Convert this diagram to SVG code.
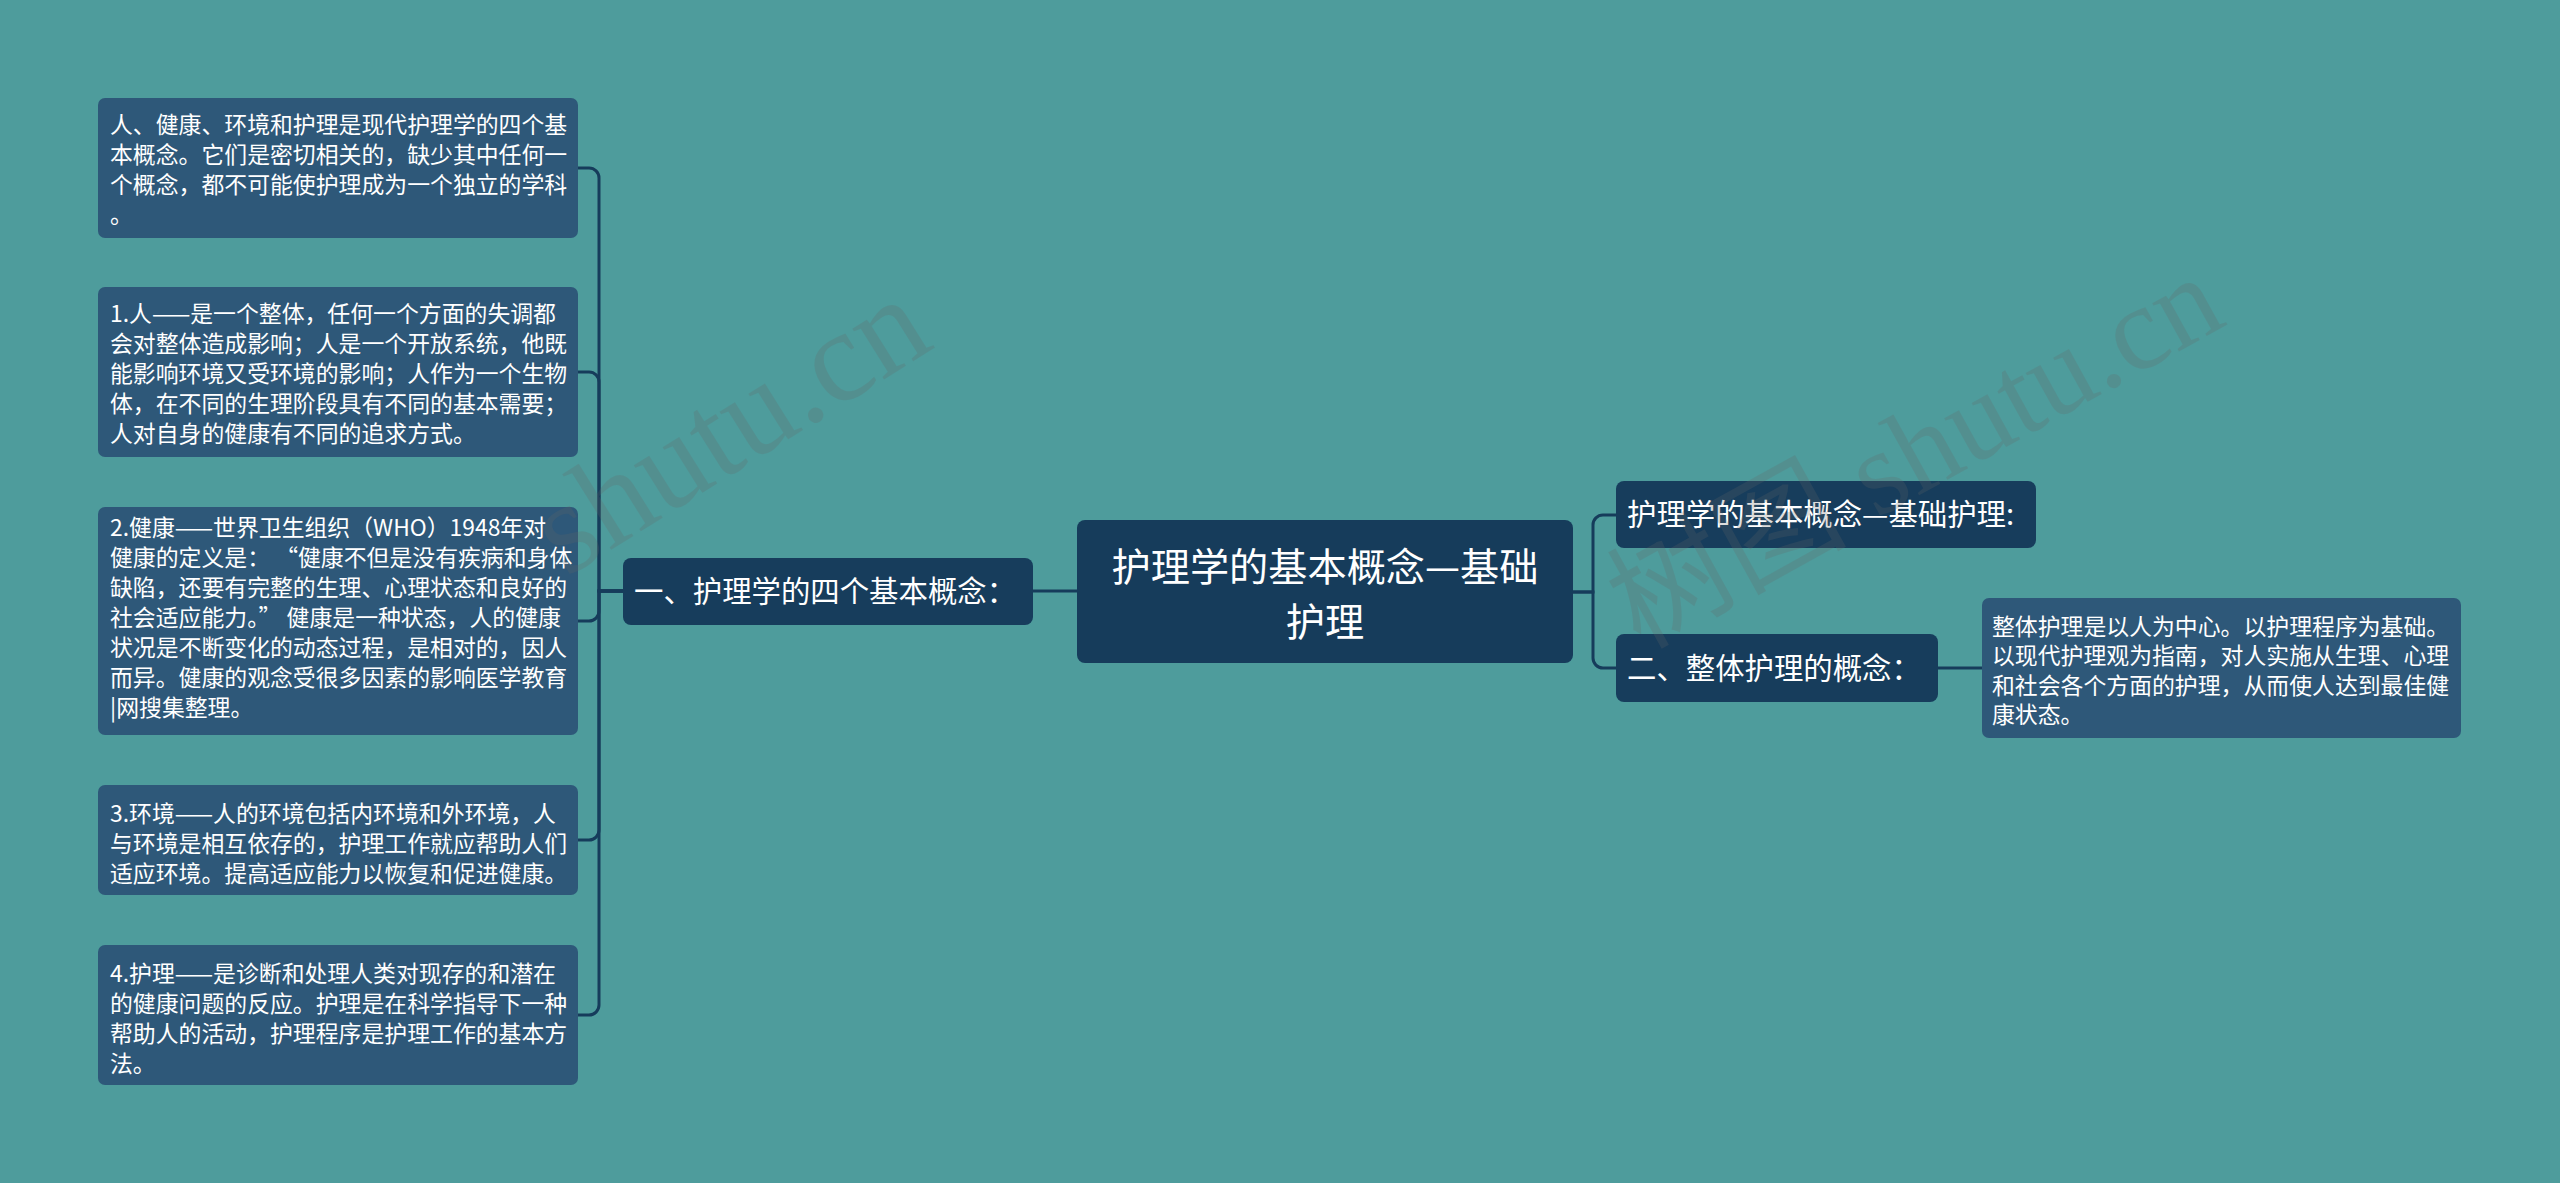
<svg xmlns="http://www.w3.org/2000/svg" width="2560" height="1183" viewBox="0 0 2560 1183">
<style>
.bg{fill:#4e9c9c}
.main{fill:#163c5b}
.sub{fill:#173d5c}
.leaf{fill:#2e5879}
.t{font-family:"Noto Sans CJK SC","Noto Sans",sans-serif;fill:#ffffff}
.ts{font-size:22.86px}
.tm{font-size:29.4px}
.tl{font-size:39.2px}
.conn{fill:none;stroke:#163c5b;stroke-width:3}
.wm{font-family:"Liberation Serif","Noto Sans CJK SC",serif;font-size:120px;fill:#666666;opacity:0.22}
</style>
<rect class="bg" x="0" y="0" width="2560" height="1183"/>

<g id="connectors">
<path class="conn" d="M623 591 H599 V178 A10 10 0 0 0 589 168 H578"/>
<path class="conn" d="M623 591 H599 V382 A10 10 0 0 0 589 372 H578"/>
<path class="conn" d="M623 591 H599 V611 A10 10 0 0 1 589 621 H578"/>
<path class="conn" d="M623 591 H599 V830 A10 10 0 0 1 589 840 H578"/>
<path class="conn" d="M623 591 H599 V1005 A10 10 0 0 1 589 1015 H578"/>
<path class="conn" d="M1033 591 H1077"/>
<path class="conn" d="M1573 592 H1593 V525 A10 10 0 0 1 1603 515 H1616"/>
<path class="conn" d="M1573 592 H1593 V658 A10 10 0 0 0 1603 668 H1616"/>
<path class="conn" d="M1938 668 H1982"/>
</g>

<g id="root">
<rect class="main" x="1077" y="520" width="496" height="143" rx="8"/>
<text class="t tl" x="1325" y="581" text-anchor="middle">护理学的基本概念—基础</text>
<text class="t tl" x="1325" y="636" text-anchor="middle">护理</text>
</g>

<g id="node-left">
<rect class="sub" x="623" y="558" width="410" height="67" rx="8"/>
<text class="t tm" x="634" y="602">一、护理学的四个基本概念：</text>
</g>

<g id="leaf1">
<rect class="leaf" x="98" y="98" width="480" height="140" rx="7"/>
<text class="t ts" x="110" y="133">人、健康、环境和护理是现代护理学的四个基</text>
<text class="t ts" x="110" y="163">本概念。它们是密切相关的，缺少其中任何一</text>
<text class="t ts" x="110" y="193">个概念，都不可能使护理成为一个独立的学科</text>
<text class="t ts" x="110" y="223">。</text>
</g>

<g id="leaf2">
<rect class="leaf" x="98" y="287" width="480" height="170" rx="7"/>
<text class="t ts" x="110" y="322">1.人——是一个整体，任何一个方面的失调都</text>
<text class="t ts" x="110" y="352">会对整体造成影响；人是一个开放系统，他既</text>
<text class="t ts" x="110" y="382">能影响环境又受环境的影响；人作为一个生物</text>
<text class="t ts" x="110" y="412">体，在不同的生理阶段具有不同的基本需要；</text>
<text class="t ts" x="110" y="442">人对自身的健康有不同的追求方式。</text>
</g>

<g id="leaf3">
<rect class="leaf" x="98" y="507" width="480" height="228" rx="7"/>
<text class="t ts" x="110" y="536">2.健康——世界卫生组织（WHO）1948年对</text>
<text class="t ts" x="110" y="566">健康的定义是： “健康不但是没有疾病和身体</text>
<text class="t ts" x="110" y="596">缺陷，还要有完整的生理、心理状态和良好的</text>
<text class="t ts" x="110" y="626">社会适应能力。” 健康是一种状态，人的健康</text>
<text class="t ts" x="110" y="656">状况是不断变化的动态过程，是相对的，因人</text>
<text class="t ts" x="110" y="686">而异。健康的观念受很多因素的影响医学教育</text>
<text class="t ts" x="110" y="716">|网搜集整理。</text>
</g>

<g id="leaf4">
<rect class="leaf" x="98" y="785" width="480" height="110" rx="7"/>
<text class="t ts" x="110" y="822">3.环境——人的环境包括内环境和外环境，人</text>
<text class="t ts" x="110" y="852">与环境是相互依存的，护理工作就应帮助人们</text>
<text class="t ts" x="110" y="882">适应环境。提高适应能力以恢复和促进健康。</text>
</g>

<g id="leaf5">
<rect class="leaf" x="98" y="945" width="480" height="140" rx="7"/>
<text class="t ts" x="110" y="982">4.护理——是诊断和处理人类对现存的和潜在</text>
<text class="t ts" x="110" y="1012">的健康问题的反应。护理是在科学指导下一种</text>
<text class="t ts" x="110" y="1042">帮助人的活动，护理程序是护理工作的基本方</text>
<text class="t ts" x="110" y="1072">法。</text>
</g>

<g id="node-right1">
<rect class="sub" x="1616" y="481" width="420" height="67" rx="8"/>
<text class="t tm" x="1627" y="525">护理学的基本概念—基础护理:</text>
</g>

<g id="node-right2">
<rect class="sub" x="1616" y="634" width="322" height="68" rx="8"/>
<text class="t tm" x="1627" y="679">二、整体护理的概念：</text>
</g>

<g id="leaf6">
<rect class="leaf" x="1982" y="598" width="479" height="140" rx="7"/>
<text class="t ts" x="1992" y="635">整体护理是以人为中心。以护理程序为基础。</text>
<text class="t ts" x="1992" y="664">以现代护理观为指南，对人实施从生理、心理</text>
<text class="t ts" x="1992" y="694">和社会各个方面的护理，从而使人达到最佳健</text>
<text class="t ts" x="1992" y="723">康状态。</text>
</g>

<g id="watermark">
<text class="wm" style="font-size:130px" transform="translate(566 578) rotate(-32)">shutu.cn</text>
<text class="wm" transform="translate(1640 650) rotate(-29)">树图 shutu.cn</text>
</g>
</svg>
